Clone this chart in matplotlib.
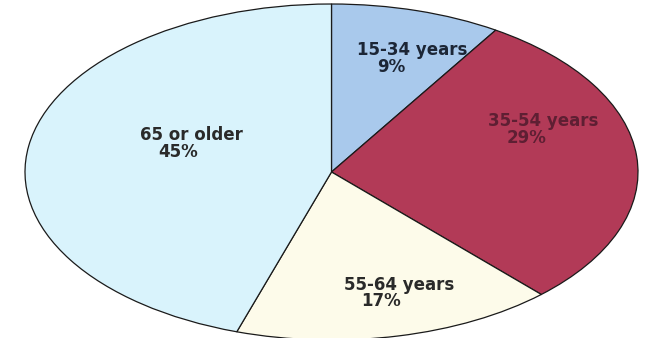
import numpy as np
import matplotlib.pyplot as plt

# Datos
grupos = ['15-34 years', '35-54 years', '55-64 years', '65 or older']
porcentajes = [9, 29, 17, 45]

# Estilo
colores = ['#a9c9ec', '#b23a57', '#fdfbea', '#d9f3fc']
colores_texto = ['#1c2636', '#5e1f33', '#2a2a2a', '#2a2a2a']

# Posicion de las etiquetas (coordenadas del pie, radio 1): linea 1 y linea 2
pos_nombre = [(0.263, 0.726), (0.690, 0.304), (0.220, -0.671), (-0.458, 0.222)]
pos_pct = [(0.194, 0.625), (0.638, 0.202), (0.161, -0.770), (-0.501, 0.117)]

fig = plt.figure(figsize=(6.47, 3.38), dpi=100)
ax = fig.add_axes([25 / 647, -2 / 338, 613 / 647, 336 / 338])

ax.pie(porcentajes, colors=colores, startangle=90, counterclock=False,
       wedgeprops={'edgecolor': '#1a1a1a', 'linewidth': 0.9})
ax.set_aspect('auto')
ax.set_xlim(-1, 1)
ax.set_ylim(-1, 1)
ax.axis('off')

for i in range(len(grupos)):
    ax.text(pos_nombre[i][0], pos_nombre[i][1], grupos[i], ha='center', va='center',
            fontsize=12, fontweight='bold', color=colores_texto[i], family='DejaVu Sans')
    ax.text(pos_pct[i][0], pos_pct[i][1], '%d%%' % porcentajes[i], ha='center', va='center',
            fontsize=12, fontweight='bold', color=colores_texto[i], family='DejaVu Sans')

fig.savefig('out.png', dpi=100, facecolor='white')
